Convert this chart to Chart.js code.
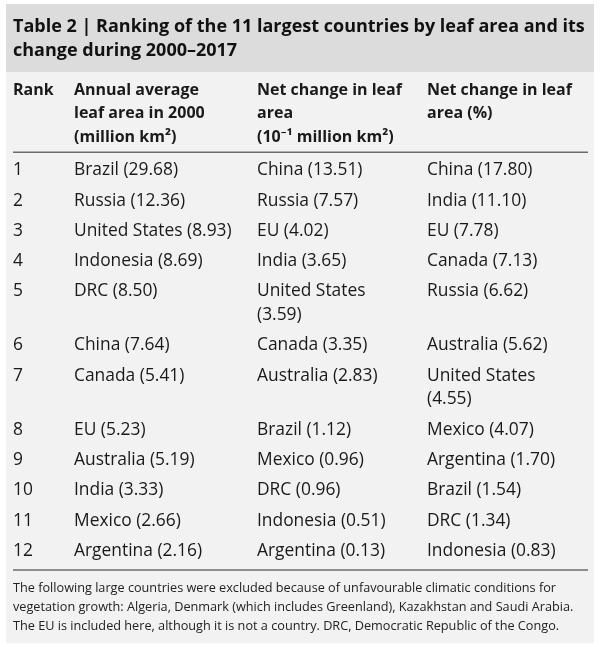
<!DOCTYPE html>
<html>
<head>
<meta charset="utf-8">
<script src="https://cdn.jsdelivr.net/npm/chart.js@4.4.1/dist/chart.umd.min.js"></script>
<style>
html, body { margin: 0; padding: 0; background: #fff; }
#wrap { width: 600px; height: 647px; }
</style>
</head>
<body>
<div id="wrap"><canvas id="table2"></canvas></div>
<script>
// table data
const ranks = [1, 2, 3, 4, 5, 6, 7, 8, 9, 10, 11, 12];
const areaCountries = ['Brazil', 'Russia', 'United States', 'Indonesia', 'DRC', 'China', 'Canada', 'EU', 'Australia', 'India', 'Mexico', 'Argentina'];
const areaValues = [29.68, 12.36, 8.93, 8.69, 8.50, 7.64, 5.41, 5.23, 5.19, 3.33, 2.66, 2.16];
const changeCountries = ['China', 'Russia', 'EU', 'India', 'United States', 'Canada', 'Australia', 'Brazil', 'Mexico', 'DRC', 'Indonesia', 'Argentina'];
const changeValues = [13.51, 7.57, 4.02, 3.65, 3.59, 3.35, 2.83, 1.12, 0.96, 0.96, 0.51, 0.13];
const pctCountries = ['China', 'India', 'EU', 'Canada', 'Russia', 'Australia', 'United States', 'Mexico', 'Argentina', 'Brazil', 'DRC', 'Indonesia'];
const pctValues = [17.80, 11.10, 7.78, 7.13, 6.62, 5.62, 4.55, 4.07, 1.70, 1.54, 1.34, 0.83];

const headers = [
    ['Rank'],
    ['Annual average', 'leaf area in 2000', '(million km\u00b2)'],
    ['Net change in leaf', 'area', '(10\u207b\u00b9 million km\u00b2)'],
    ['Net change in leaf', 'area (%)']
];
const titleLines = ['Table 2 | Ranking of the 11 largest countries by leaf area and its', 'change during 2000\u20132017'];
const noteLines = [
    'The following large countries were excluded because of unfavourable climatic conditions for',
    'vegetation growth: Algeria, Denmark (which includes Greenland), Kazakhstan and Saudi Arabia.',
    'The EU is included here, although it is not a country. DRC, Democratic Republic of the Congo.'
];

// layout
const FAMILY = '"Open Sans", "Noto Sans", sans-serif';
const bodyFont = '17.4px ' + FAMILY;
const headFont = 'bold 16px ' + FAMILY;
const colWidths = [61, 183, 170, 161];
const colRoom = [50, 175, 150, 150];
const headTop = 0.76, sepGap = 0.63, rowGap = 0.28, bottomGap = 0.8;

const measure = document.createElement('canvas').getContext('2d');
measure.font = bodyFont;
function wrapCell(text, room) {
    if (measure.measureText(text).width <= room) return [text];
    const cut = text.lastIndexOf(' (');
    return [text.slice(0, cut), text.slice(cut + 1)];
}
const label = (c, v) => c + ' (' + v.toFixed(2) + ')';

const colX = colWidths.map((w, i) => colWidths.slice(0, i).reduce((a, b) => a + b, 0));
const bodyCols = [
    ranks.map(r => [String(r)]),
    areaCountries.map((c, i) => wrapCell(label(c, areaValues[i]), colRoom[1])),
    changeCountries.map((c, i) => wrapCell(label(c, changeValues[i]), colRoom[2])),
    pctCountries.map((c, i) => wrapCell(label(c, pctValues[i]), colRoom[3]))
];

const headLines = Math.max(...headers.map(h => h.length));
const sepY = headTop + (headLines - 1) + sepGap;
const rowY = [];
let cur = sepY + headTop;
ranks.forEach((r, i) => {
    rowY.push(cur);
    cur += Math.max(...bodyCols.map(col => col[i].length)) + rowGap;
});
const yMax = rowY[rowY.length - 1] + Math.max(...bodyCols.map(col => col[col.length - 1].length)) - 1 + bottomGap;

const datasets = [{
    bold: true,
    data: headers.map((h, i) => ({ x: colX[i], y: headTop, lines: h }))
}].concat(bodyCols.map((col, ci) => ({
    bold: false,
    data: col.map((lines, i) => ({ x: colX[ci], y: rowY[i], lines: lines }))
})));

const tableText = {
    id: 'tableText',
    beforeDraw(chart) {
        const ctx = chart.ctx, area = chart.chartArea;
        ctx.save();
        ctx.fillStyle = '#f2f2f2';
        ctx.fillRect(6, 4, 588, 639);
        ctx.fillStyle = '#dcdcdc';
        ctx.fillRect(6, 4, 588, area.top - 4);
        ctx.restore();
    },
    afterDatasetsDraw(chart) {
        const ctx = chart.ctx, area = chart.chartArea;
        const ys = chart.scales.y;
        const lineH = ys.getPixelForValue(1) - ys.getPixelForValue(0);
        ctx.save();
        ctx.strokeStyle = '#6b6b6b';
        ctx.lineWidth = 1.6;
        [ys.getPixelForValue(sepY), area.bottom].forEach(py => {
            ctx.beginPath();
            ctx.moveTo(area.left, py);
            ctx.lineTo(area.right, py);
            ctx.stroke();
        });
        ctx.fillStyle = '#1a1a1a';
        ctx.textBaseline = 'middle';
        ctx.textAlign = 'left';
        chart.data.datasets.forEach((ds, di) => {
            ctx.font = ds.bold ? headFont : bodyFont;
            chart.getDatasetMeta(di).data.forEach((pt, i) => {
                ds.data[i].lines.forEach((ln, k) => ctx.fillText(ln, pt.x, pt.y + k * lineH));
            });
        });
        ctx.restore();
    }
};

new Chart(document.getElementById('table2'), {
    type: 'scatter',
    data: { datasets: datasets },
    plugins: [tableText],
    options: {
        responsive: true,
        maintainAspectRatio: false,
        animation: false,
        events: [],
        layout: { padding: { top: 4, left: 13, right: 12, bottom: 4 } },
        elements: { point: { radius: 0 } },
        scales: {
            x: { type: 'linear', display: false, min: 0, max: colWidths.reduce((a, b) => a + b, 0) },
            y: { type: 'linear', display: false, reverse: true, min: 0, max: yMax }
        },
        plugins: {
            legend: { display: false },
            tooltip: { enabled: false },
            title: {
                display: true,
                align: 'start',
                text: titleLines,
                color: '#111',
                font: { family: FAMILY, size: 18, weight: 'bold', lineHeight: '24px' },
                padding: { top: 11, bottom: 9 }
            },
            subtitle: {
                display: true,
                position: 'bottom',
                align: 'start',
                text: noteLines,
                color: '#222',
                font: { family: FAMILY, size: 12.7, weight: 'normal', lineHeight: '19px' },
                padding: { top: 8.5, bottom: 7.5 }
            }
        }
    }
});
</script>
</body>
</html>
